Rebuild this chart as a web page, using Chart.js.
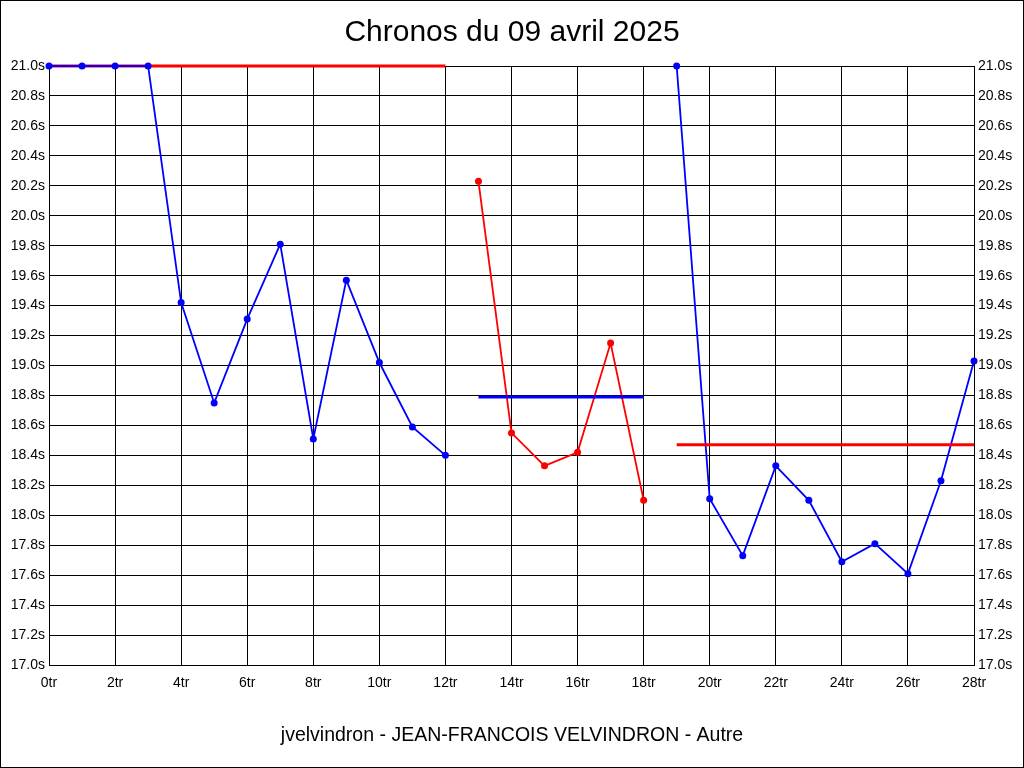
<!DOCTYPE html>
<html>
<head>
<meta charset="utf-8">
<title>Chronos du 09 avril 2025</title>
<script src="https://cdn.jsdelivr.net/npm/chart.js@4/dist/chart.umd.min.js"></script>
<style>
  html, body { margin: 0; padding: 0; background: #fff; }
  #wrap { width: 1024px; height: 768px; }
</style>
</head>
<body>
<div id="wrap"><canvas id="chrono" width="1024" height="768"></canvas></div>
<script>
// laps (tours) and lap times in seconds
const laps1 = [0, 1, 2, 3, 4, 5, 6, 7, 8, 9, 10, 11, 12];
const times1 = [21.0, 21.0, 21.0, 21.0, 19.42, 18.75, 19.31, 19.81, 18.51, 19.57, 19.02, 18.59, 18.40];
const laps2 = [13, 14, 15, 16, 17, 18];
const times2 = [20.23, 18.55, 18.33, 18.42, 19.15, 18.10];
const laps3 = [19, 20, 21, 22, 23, 24, 25, 26, 27, 28];
const times3 = [21.0, 18.11, 17.73, 18.33, 18.10, 17.69, 17.81, 17.61, 18.23, 19.03];

// average of each run, drawn from first to last lap
const avgLaps1 = [0, 12];
const avg1 = 21.0;
const avgLaps2 = [13, 18];
const avg2 = 18.79;
const avgLaps3 = [19, 28];
const avg3 = 18.47;

const lapTicks = { min: 0, max: 28, step: 2 };
const timeTicks = { min: 17.0, max: 21.0, step: 0.2 };

const BLUE = '#0000ff';
const RED = '#ff0000';

function pts(xs, ys) {
  return xs.map((x, i) => ({ x: x, y: ys[i] }));
}
function flat(xs, v) {
  return xs.map(x => ({ x: x, y: v }));
}

function series(data, color, order) {
  return {
    data: data,
    borderColor: color,
    backgroundColor: color,
    borderWidth: 1.8,
    pointRadius: 3.5,
    pointBorderWidth: 0,
    pointBackgroundColor: color,
    tension: 0,
    clip: 8,
    order: order,
  };
}
function average(data, color, order) {
  return {
    data: data,
    borderColor: color,
    borderWidth: 3,
    pointRadius: 0,
    tension: 0,
    clip: 8,
    order: order,
  };
}

// white background and thin frame around the picture
const framePlugin = {
  id: 'frame',
  beforeDraw(chart) {
    const ctx = chart.ctx;
    ctx.save();
    ctx.fillStyle = '#fff';
    ctx.fillRect(0, 0, chart.width, chart.height);
    ctx.restore();
  },
  afterDraw(chart) {
    const ctx = chart.ctx;
    ctx.save();
    ctx.strokeStyle = '#000';
    ctx.lineWidth = 1;
    ctx.strokeRect(0.5, 0.5, chart.width - 1, chart.height - 1);
    ctx.restore();
  },
};

const FONT = "'Liberation Sans', Arial, sans-serif";

new Chart(document.getElementById('chrono'), {
  type: 'line',
  data: {
    datasets: [
      series(pts(laps1, times1), BLUE, 3),
      series(pts(laps2, times2), RED, 3),
      series(pts(laps3, times3), BLUE, 3),
      average(flat(avgLaps1, avg1), RED, 5),
      average(flat(avgLaps2, avg2), BLUE, 1),
      average(flat(avgLaps3, avg3), RED, 1),
    ],
  },
  options: {
    responsive: false,
    animation: false,
    events: [],
    layout: { padding: 0 },
    plugins: {
      legend: { display: false },
      tooltip: { enabled: false },
      title: {
        display: true,
        text: 'Chronos du 09 avril 2025',
        color: '#000',
        font: { family: FONT, size: 30, weight: 'normal', lineHeight: 1.2 },
        padding: { top: 15, bottom: 15 },
      },
      subtitle: {
        display: true,
        position: 'bottom',
        text: 'jvelvindron - JEAN-FRANCOIS VELVINDRON - Autre',
        color: '#000',
        font: { family: FONT, size: 19.5, weight: 'normal', lineHeight: 1.2 },
        padding: { top: 0, bottom: 21 },
      },
    },
    scales: {
      x: {
        type: 'linear',
        min: lapTicks.min,
        max: lapTicks.max,
        afterFit(scale) { scale.height = 58.6; },
        ticks: {
          stepSize: lapTicks.step,
          color: '#000',
          padding: 10,
          maxRotation: 0,
          font: { family: FONT, size: 14 },
          callback: v => v + 'tr',
        },
        grid: { color: '#000', lineWidth: 1, drawTicks: false },
        border: { color: '#000', width: 1 },
      },
      y: {
        type: 'linear',
        position: 'left',
        min: timeTicks.min,
        max: timeTicks.max,
        afterFit(scale) { scale.width = 49; },
        ticks: {
          stepSize: timeTicks.step,
          color: '#000',
          padding: 4,
          font: { family: FONT, size: 14 },
          callback: v => v.toFixed(1) + 's',
        },
        grid: { color: '#000', lineWidth: 1, drawTicks: false },
        border: { color: '#000', width: 1 },
      },
      y2: {
        type: 'linear',
        position: 'right',
        min: timeTicks.min,
        max: timeTicks.max,
        afterFit(scale) { scale.width = 50; },
        ticks: {
          stepSize: timeTicks.step,
          color: '#000',
          padding: 4,
          font: { family: FONT, size: 14 },
          callback: v => v.toFixed(1) + 's',
        },
        grid: { display: false, drawTicks: false },
        border: { color: '#000', width: 1 },
      },
    },
  },
  plugins: [framePlugin],
});
</script>
</body>
</html>
